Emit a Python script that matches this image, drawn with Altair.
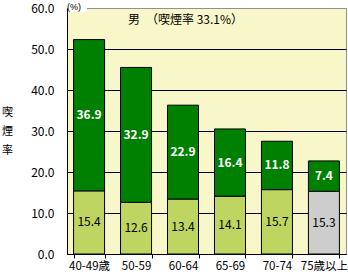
import altair as alt
import pandas as pd

categories = ["40-49歳", "50-59", "60-64", "65-69", "70-74", "75歳以上"]
bottom_vals = [15.4, 12.6, 13.4, 14.1, 15.7, 15.3]
top_vals = [36.9, 32.9, 22.9, 16.4, 11.8, 7.4]
y_ticks = [0, 10, 20, 30, 40, 50, 60]

rows = []
for i, (c, b, t) in enumerate(zip(categories, bottom_vals, top_vals)):
    seg_b = "gray" if i == len(categories) - 1 else "light"
    rows.append({"cat": c, "seg": seg_b, "y0": 0.0, "y1": b, "val": b, "mid": b / 2})
    rows.append({"cat": c, "seg": "dark", "y0": b, "y1": b + t, "val": t, "mid": b + t / 2})
df = pd.DataFrame(rows)

FONT = "Noto Sans CJK JP"

xenc = alt.X("cat:N", sort=categories, title=None,
             scale=alt.Scale(paddingInner=0.34, paddingOuter=0.14),
             axis=alt.Axis(labelAngle=0, labelFont=FONT, labelFontSize=11.5, labelColor="black",
                           domainColor="black", tickColor="black", tickBand="extent",
                           tickSize=4, labelPadding=2))
yscale = alt.Scale(domain=[0, 60], nice=False)

bars = alt.Chart(df).mark_bar(stroke="black", strokeWidth=1).encode(
    x=xenc,
    y=alt.Y("y0:Q", scale=yscale, title=None,
            axis=alt.Axis(values=y_ticks, format=".1f", labelFont=FONT, labelFontSize=12,
                          labelColor="black", domainColor="black", ticks=False, labelPadding=13,
                          gridColor={"condition": {"test": "datum.value >= 60", "value": "#909090"}, "value": "black"},
                          gridOpacity=1)),
    y2="y1:Q",
    color=alt.Color("seg:N", legend=None,
                    scale=alt.Scale(domain=["light", "dark", "gray"],
                                    range=["#BFD562", "#008000", "#CDCDCD"])),
)

labels_top = alt.Chart(df[df.seg == "dark"]).mark_text(
    font=FONT, fontSize=12, fontWeight="bold", color="white").encode(
    x=alt.X("cat:N", sort=categories),
    y=alt.Y("mid:Q", scale=yscale, axis=None),
    text=alt.Text("val:Q", format=".1f"))
labels_bot = alt.Chart(df[df.seg != "dark"]).mark_text(
    font=FONT, fontSize=12, color="black").encode(
    x=alt.X("cat:N", sort=categories),
    y=alt.Y("mid:Q", scale=yscale, axis=None),
    text=alt.Text("val:Q", format=".1f"))

title = alt.Chart(pd.DataFrame({"t": ["男　（喫煙率 33.1%）"]})).mark_text(
    font=FONT, fontSize=12, color="black", align="left", baseline="middle").encode(
    x=alt.value(61), y=alt.value(12), text="t:N")

pct_box = alt.Chart(pd.DataFrame({"a": [0]})).mark_rect(color="white").encode(
    x=alt.value(1), x2=alt.value(20), y=alt.value(-8), y2=alt.value(4))

pct = alt.Chart(pd.DataFrame({"t": ["(%)"]})).mark_text(
    font="Liberation Sans", fontSize=9, color="black", align="left", baseline="middle").encode(
    x=alt.value(0), y=alt.value(-1), text="t:N")

ylab = alt.Chart(pd.DataFrame({"t": ["喫", "煙", "率"], "k": [0, 1, 2]})).mark_text(
    font=FONT, fontSize=11, color="black", align="left", baseline="middle").encode(
    x=alt.value(-65),
    y=alt.Y("k:O", axis=None, scale=alt.Scale(range=[95, 152]), sort=[0, 1, 2]),
    text="t:N")

chart = alt.layer(bars, labels_top, labels_bot, title, pct_box, pct, ylab).resolve_scale(y="independent").properties(
    width=279, height=246,
    autosize=alt.AutoSizeParams(type="none"),
    padding={"left": 67, "top": 8, "right": 2, "bottom": 20},
    background="white",
).configure_view(fill="#F7F7CA", stroke="#909090", strokeWidth=1)

chart.save("out.html", embed_options={"renderer": "svg", "actions": False})
